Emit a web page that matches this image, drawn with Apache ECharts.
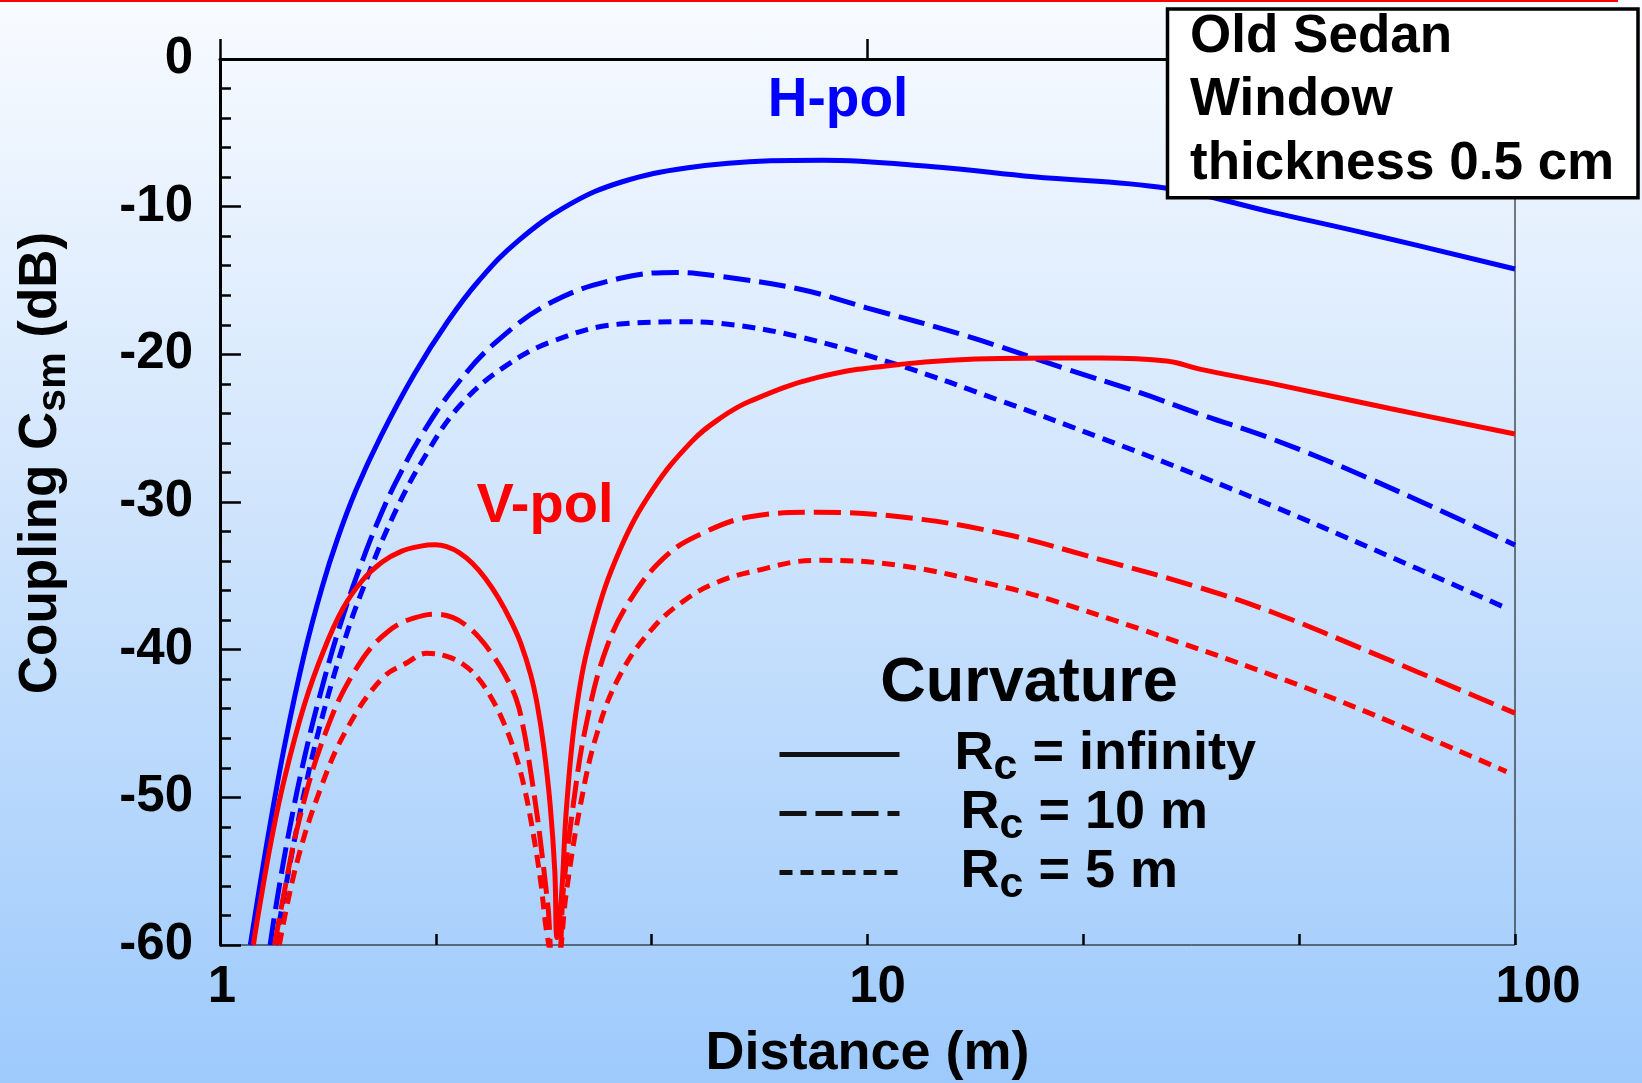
<!DOCTYPE html>
<html>
<head>
<meta charset="utf-8">
<script src="https://cdn.jsdelivr.net/npm/echarts@6/dist/echarts.min.js"></script>
<style>
html, body { margin: 0; padding: 0; }
#chart { width: 1642px; height: 1083px; background: linear-gradient(to bottom, #f8fbff 0%, #cde3fc 50%, #9dcafc 100%); }
</style>
</head>
<body>
<div id="chart"></div>
<script>
// ---------- data (distance in m, coupling in dB) ----------
const xTickValues = [1, 10, 100];
const yTickValues = [0, -10, -20, -30, -40, -50, -60];
const legendNames = ['Rc = infinity', 'Rc = 10 m', 'Rc = 5 m'];
const boxLines = ['Old Sedan', 'Window', 'thickness 0.5 cm'];

// H-pol, Rc = infinity
const hInfDist = [1.114, 1.189, 1.259, 1.349, 1.439, 1.521, 1.622, 1.770, 1.995, 2.249, 2.512, 2.884, 3.467, 4.169, 5.248, 7.08, 8.51, 12.64, 18.04, 28.97, 42.4, 60.4, 100];
const hInfDb   = [-60, -52.4, -46.43, -40.34, -35.71, -32.41, -29.19, -25.59, -21.35, -17.76, -15.0, -12.33, -9.85, -8.33, -7.38, -6.89, -6.85, -7.29, -7.97, -8.75, -10.4, -11.92, -14.22];
// H-pol, Rc = 10 m
const hTenDist = [1.195, 1.221, 1.276, 1.352, 1.449, 1.552, 1.675, 1.778, 1.875, 2.051, 2.307, 2.673, 3.273, 4.15, 5.07, 5.92, 7.87, 9.97, 14.2, 20.3, 26.35, 32.6, 42.4, 60.4, 100];
const hTenDb   = [-60, -57.3, -52.5, -47.2, -42.0, -37.6, -33.5, -30.7, -28.54, -25.42, -22.18, -19.14, -16.41, -14.85, -14.45, -14.72, -15.59, -16.85, -18.75, -21.0, -22.6, -24.05, -25.77, -28.53, -32.91];
// H-pol, Rc = 5 m
const hFiveDist = [1.218, 1.27, 1.337, 1.42, 1.542, 1.645, 1.852, 2.085, 2.349, 2.738, 3.27, 4.148, 5.26, 5.92, 7.87, 11.22, 16.02, 22.9, 32.6, 42.4, 60.4, 97];
const hFiveDb   = [-60, -55.5, -50.5, -45.5, -39.99, -36.39, -30.94, -26.72, -23.45, -20.9, -19.1, -17.95, -17.8, -17.9, -18.83, -20.76, -23.13, -25.65, -28.25, -30.3, -33.2, -37.19];
// V-pol, Rc = infinity
const vInfDist = [1.126, 1.148, 1.202, 1.259, 1.349, 1.445, 1.549, 1.66, 1.778, 1.905, 2.042, 2.148, 2.239, 2.344, 2.455, 2.57, 2.692, 2.818, 2.917, 3.02, 3.09, 3.162, 3.236, 3.289, 3.315, 3.37, 3.43, 3.556, 3.773, 4.148, 4.67, 5.35, 5.92, 6.58, 8.35, 11.22, 16.02, 22.9, 28.97, 32.6, 42.4, 64.1, 100];
const vInfDb   = [-60, -57.7, -52.75, -48.65, -43.77, -40.09, -37.2, -35.3, -34.08, -33.34, -32.99, -32.9, -33.02, -33.44, -34.16, -35.18, -36.5, -38.12, -39.62, -41.72, -43.72, -46.57, -50.57, -55, -59.5, -56.5, -50.6, -43.85, -38.4, -33.22, -29.1, -25.91, -24.33, -23.18, -21.58, -20.68, -20.28, -20.25, -20.45, -21.0, -22.0, -23.67, -25.4];
// V-pol, Rc = 10 m
const vTenDist = [1.215, 1.242, 1.327, 1.455, 1.618, 1.82, 2.065, 2.163, 2.291, 2.399, 2.512, 2.63, 2.754, 2.87, 2.95, 3.01, 3.07, 3.12, 3.21, 3.27, 3.33, 3.39, 3.51, 3.68, 3.96, 4.35, 4.9, 5.51, 6.58, 8.35, 11.22, 16.02, 22.9, 32.6, 42.4, 60.4, 100];
const vTenDb   = [-60, -57.6, -51.44, -45.64, -41.38, -38.75, -37.68, -37.6, -37.83, -38.35, -39.17, -40.29, -41.7, -43.4, -45.6, -47.9, -50.4, -52.7, -57.4, -61, -61, -56.3, -50.6, -45, -39.8, -36.3, -33.6, -32.2, -31.0, -30.7, -31.0, -32.1, -33.9, -35.8, -37.5, -40.25, -44.3];
// V-pol, Rc = 5 m
const vFiveDist = [1.235, 1.313, 1.43, 1.569, 1.775, 1.95, 2.085, 2.24, 2.376, 2.5, 2.62, 2.74, 2.85, 2.95, 3.05, 3.13, 3.2, 3.3, 3.43, 3.6, 3.82, 4.15, 4.67, 5.26, 5.85, 6.58, 8.35, 11.22, 16.02, 19.1, 26.35, 42.4, 60.4, 97];
const vFiveDb   = [-60, -54.5, -49.4, -45.4, -42.0, -40.85, -40.25, -40.45, -41.0, -41.9, -43.2, -44.9, -46.9, -49.3, -52.6, -55.8, -59.3, -62, -56.3, -50.6, -45.7, -41.7, -38.5, -36.55, -35.45, -34.75, -33.95, -34.3, -35.7, -36.6, -38.6, -41.77, -44.4, -48.26];

// ---------- styling ----------
const FONT = '"Liberation Sans", Arial, Helvetica, sans-serif';
const BLUE = '#0000ff', RED = '#ff0000', INK = '#000000';
const DASHED = [27, 9], DOTTED = [13, 8];

function pairs(xs, ys) { return xs.map(function (x, i) { return [x, ys[i]]; }); }
function curve(name, xs, ys, color, dash, width) {
  return {
    name: name, type: 'line', xAxisIndex: 0, yAxisIndex: 0,
    data: pairs(xs, ys), showSymbol: false, symbol: 'none', smooth: 0.4,
    clip: true, silent: true, z: 3,
    lineStyle: { color: color, width: width, type: dash }, itemStyle: { color: color }
  };
}
function legendSeries(name, dash) {
  return { name: name, type: 'line', data: [], symbol: 'none', showSymbol: false,
    lineStyle: { color: '#111', width: 5, type: dash }, itemStyle: { color: '#111' } };
}

const chart = echarts.init(document.getElementById('chart'), null, { renderer: 'canvas' });

const option = {
  backgroundColor: 'transparent',
  animation: false,
  grid: {
    left: 220, top: 59, right: 127, bottom: 138, containLabel: false, outerBoundsMode: 'none',
    show: true, borderColor: INK, borderWidth: 1, backgroundColor: 'transparent'
  },
  xAxis: [
    {
      type: 'log', logBase: 10, min: xTickValues[0], max: xTickValues[xTickValues.length - 1],
      position: 'bottom',
      name: 'Distance (m)', nameLocation: 'middle', nameGap: 82, nameMoveOverlap: false,
      nameTextStyle: { fontFamily: FONT, fontWeight: 'bold', fontSize: 54, color: INK },
      axisLine: { show: true, lineStyle: { color: INK, width: 3 } },
      axisTick: { show: true, inside: true, length: 20, lineStyle: { color: INK, width: 2.5 } },
      minorTick: { show: false },
      splitLine: { show: false },
      axisLabel: {
        show: true, margin: 17, color: INK, fontFamily: FONT, fontWeight: 'bold', fontSize: 51,
        formatter: function (v) {
          const r = Math.round(v);
          if (r === xTickValues[0]) return '{a|' + r + '}';
          if (r === xTickValues[1]) return '{b|' + r + '}';
          return '{c|' + r + '}';
        },
        rich: {
          a: { fontFamily: FONT, fontWeight: 'bold', fontSize: 51, color: INK, padding: [0, 0, 0, 4] },
          b: { fontFamily: FONT, fontWeight: 'bold', fontSize: 51, color: INK, padding: [0, 0, 0, 20] },
          c: { fontFamily: FONT, fontWeight: 'bold', fontSize: 51, color: INK, padding: [0, 0, 0, 46] }
        }
      }
    },
    {
      // minor ticks at thirds of each decade (log10 space of the same axis)
      type: 'value', min: 0, max: 2, interval: 1 / 3, position: 'bottom', gridIndex: 0,
      axisLine: { show: false }, axisLabel: { show: false }, splitLine: { show: false },
      axisTick: { show: true, inside: true, length: 11, lineStyle: { color: INK, width: 2.5 } }
    }
  ],
  yAxis: [
    {
      type: 'value', min: yTickValues[yTickValues.length - 1], max: yTickValues[0], interval: 10,
      position: 'left',
      name: 'Coupling C{s|sm} (dB)', nameLocation: 'middle', nameGap: 152, nameRotate: 90, nameMoveOverlap: false,
      nameTextStyle: {
        fontFamily: FONT, fontWeight: 'bold', fontSize: 53, lineHeight: 53, color: INK, padding: [0, 0, 0, 78],
        rich: { s: { fontFamily: FONT, fontWeight: 'bold', fontSize: 41, lineHeight: 28, padding: [24, 0, 0, 0], color: INK } }
      },
      axisLine: { show: true, lineStyle: { color: INK, width: 3 } },
      axisTick: { show: true, inside: true, length: 21, lineStyle: { color: INK, width: 2.5 } },
      minorTick: { show: true, splitNumber: 5, length: 11, lineStyle: { color: INK, width: 2.5 } },
      splitLine: { show: false },
      axisLabel: { show: true, margin: 27, color: INK, fontFamily: FONT, fontWeight: 'bold', fontSize: 51, padding: [0, 0, 13, 0] }
    }
  ],
  legend: {
    show: true, orient: 'vertical', left: 777, top: 720, padding: 0, itemGap: -10,
    itemWidth: 120, itemHeight: 14, selectedMode: false, data: legendNames,
    itemStyle: { opacity: 0 },
    lineStyle: { width: 5, color: 'inherit', type: 'inherit' },
    formatter: function (name) {
      if (name === legendNames[0]) return '{p1|R}{s|c}{r| = infinity}';
      if (name === legendNames[1]) return '{p2|R}{s|c}{r| = 10 m}';
      return '{p2|R}{s|c}{r| = 5 m}';
    },
    textStyle: {
      color: INK, fontFamily: FONT, fontWeight: 'bold', fontSize: 54, lineHeight: 54,
      rich: {
        r:  { color: INK, fontFamily: FONT, fontWeight: 'bold', fontSize: 54, lineHeight: 54 },
        p1: { color: INK, fontFamily: FONT, fontWeight: 'bold', fontSize: 54, lineHeight: 54, padding: [0, 0, 0, 50] },
        p2: { color: INK, fontFamily: FONT, fontWeight: 'bold', fontSize: 54, lineHeight: 54, padding: [0, 0, 0, 56] },
        s:  { color: INK, fontFamily: FONT, fontWeight: 'bold', fontSize: 43, lineHeight: 27, padding: [26, 0, 0, 0] }
      }
    }
  },
  graphic: [
    { type: 'line', silent: true, z: 100, shape: { x1: 0, y1: 1, x2: 1618, y2: 1 }, style: { stroke: RED, lineWidth: 2 } },
    { type: 'text', silent: true, z: 50, x: 838, y: 101,
      style: { text: 'H-pol', fill: BLUE, font: 'bold 55px ' + FONT, align: 'center', verticalAlign: 'middle' } },
    { type: 'text', silent: true, z: 50, x: 545, y: 507,
      style: { text: 'V-pol', fill: RED, font: 'bold 56px ' + FONT, align: 'center', verticalAlign: 'middle' } },
    { type: 'text', silent: true, z: 50, x: 1029, y: 684,
      style: { text: 'Curvature', fill: INK, font: 'bold 63px ' + FONT, align: 'center', verticalAlign: 'middle' } },
    { type: 'rect', silent: true, z: 100, shape: { x: 1167.5, y: 9, width: 470.5, height: 188.7 },
      style: { fill: '#ffffff', stroke: INK, lineWidth: 3.5 } },
    { type: 'text', silent: true, z: 101, x: 1190, y: 37.5,
      style: { text: boxLines[0], fill: INK, font: 'bold 53px ' + FONT, align: 'left', verticalAlign: 'middle' } },
    { type: 'text', silent: true, z: 101, x: 1190, y: 100.5,
      style: { text: boxLines[1], fill: INK, font: 'bold 53px ' + FONT, align: 'left', verticalAlign: 'middle' } },
    { type: 'text', silent: true, z: 101, x: 1190, y: 164.5,
      style: { text: boxLines[2], fill: INK, font: 'bold 53px ' + FONT, align: 'left', verticalAlign: 'middle' } }
  ],
  series: [
    curve('H-pol Rc = infinity', hInfDist, hInfDb, BLUE, 'solid', 5),
    curve('H-pol Rc = 10 m', hTenDist, hTenDb, BLUE, DASHED, 5),
    curve('H-pol Rc = 5 m', hFiveDist, hFiveDb, BLUE, DOTTED, 5),
    curve('V-pol Rc = infinity', vInfDist, vInfDb, RED, 'solid', 5),
    curve('V-pol Rc = 10 m', vTenDist, vTenDb, RED, DASHED, 5),
    curve('V-pol Rc = 5 m', vFiveDist, vFiveDb, RED, DOTTED, 5),
    legendSeries(legendNames[0], 'solid'),
    legendSeries(legendNames[1], DASHED),
    legendSeries(legendNames[2], DOTTED)
  ]
};
chart.setOption(option);
</script>
</body>
</html>
